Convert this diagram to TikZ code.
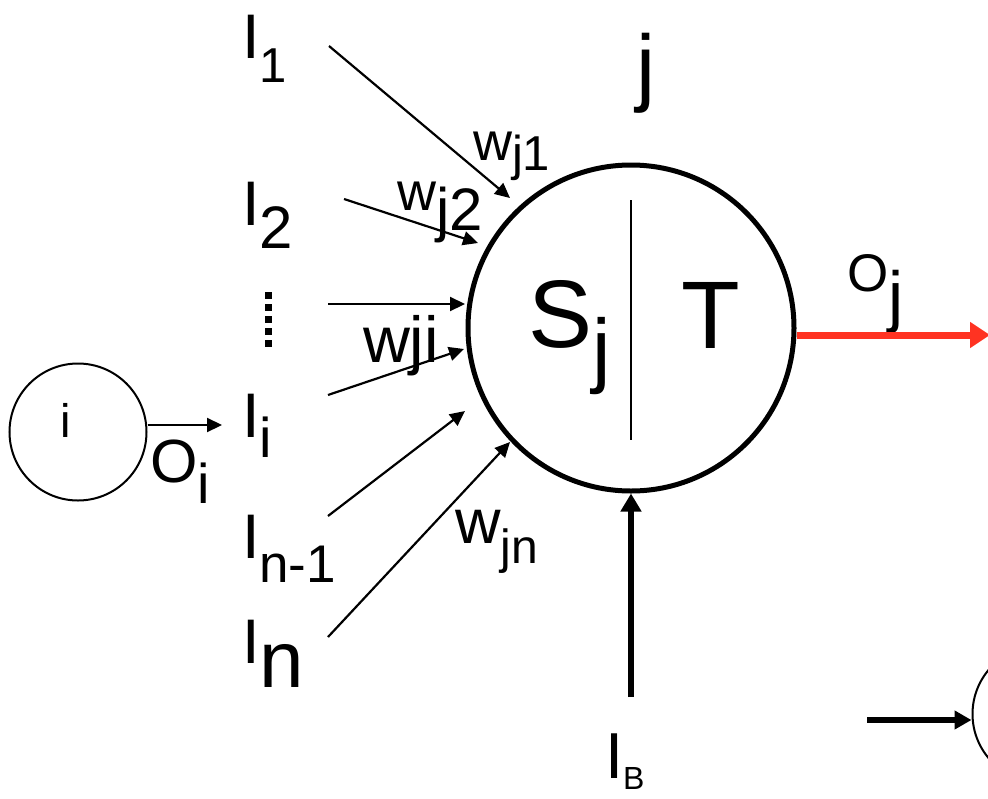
\documentclass[tikz,border=0pt]{standalone}
\usepackage{fontspec}
\setmainfont{Liberation Sans}
\usetikzlibrary{arrows.meta,calc}
\definecolor{outred}{HTML}{FF3322}
\tikzset{
  neuron/.style    = {draw,circle,line width=2pt,minimum size=137pt,inner sep=0pt},
  bigneuron/.style = {draw,circle,line width=5pt,minimum size=326pt,inner sep=0pt},
  lbl/.style       = {anchor=base west,inner sep=0pt,outer sep=0pt},
  wt/.style        = {-{Triangle[length=15pt,width=14pt]},line width=2.2pt},
  fat/.style       = {-{Triangle[length=18pt,width=20pt]},line width=6pt},
}
% main text, its size, subscript, its size, drop of the subscript
\newcommand{\sublbl}[5]{%
  \fontsize{#2}{#2}\selectfont #1\raisebox{-#5pt}{\fontsize{#4}{#4}\selectfont #3}}

\begin{document}
\begin{tikzpicture}[x=1pt,y=-1pt]
  \clip (0,0) rectangle (988,798);
  \node[bigneuron] (sj) at (631,328) {};
  \node[neuron] (ni) at (78,432) {};
  \node[neuron] (nk) at (1041,714) {};
  \draw[line width=1.5pt] ([yshift=128pt]sj.center) -- ([yshift=-112pt]sj.center);

  \node[lbl] (sl) at (528,347) {\sublbl{S}{96}{j}{83}{30}};
  \node[lbl] (tl) at (681,348) {\fontsize{96}{96}\selectfont T};
  \node[lbl] (jl) at (636,95) {\fontsize{86}{86}\selectfont j};
  \node[anchor=base,inner sep=0pt] (il) at (65.5,437) {\fontsize{47}{47}\selectfont i};

  \node[lbl] (l1) at (242,58)  {\sublbl{I}{63}{1}{49}{24}};
  \node[lbl] (l2) at (242,225) {\sublbl{I}{63}{2}{60}{23}};
  \node[lbl] (li) at (242,437) {\sublbl{I}{63}{i}{56}{20}};
  \node[lbl] (lm) at (242,558) {\sublbl{I}{63}{n-1}{53}{24}};
  \node[lbl] (ln) at (242,663) {\sublbl{I}{63}{n}{80}{24}};
  \draw[line width=7pt,dash pattern=on 7pt off 5pt] (268,292) -- (268,347);

  \node[lbl] (w1) at (473,160) {\sublbl{w}{54}{j1}{49}{10}};
  \node[lbl] (w2) at (397,210) {\sublbl{w}{54}{j2}{60}{20}};
  \node[lbl] (wi) at (363,362) {\fontsize{65}{65}\selectfont wji};
  \node[lbl] (wn) at (455,543) {\sublbl{w}{63}{jn}{48}{20}};
  \node[lbl] (oil) at (150,482) {\sublbl{O}{61}{i}{56}{21}};
  \node[lbl] (ojl) at (847,291) {\sublbl{O}{53}{j}{68}{28}};
  \node[lbl] (ibl) at (605,778) {\sublbl{I}{65}{B}{32}{11}};

  \coordinate (a1) at (329,46);  \coordinate (b1) at (510,198);
  \coordinate (a2) at (344,199); \coordinate (b2) at (478,243);
  \coordinate (a3) at (328,304); \coordinate (b3) at (465,304);
  \coordinate (a4) at (328,395); \coordinate (b4) at (464,349);
  \coordinate (a5) at (328,516); \coordinate (b5) at (465,411);
  \coordinate (a6) at (328,637); \coordinate (b6) at (510,442);
  \foreach \k in {1,...,6}
    \draw[wt] (a\k) -- (b\k);

  \coordinate (oi) at (222,425);
  \draw[wt] (ni.east |- oi) -- (oi);
  \coordinate (ib) at (631,697);
  \draw[fat] (ib) -- (sj.south);
  \coordinate (oj) at (990,335);
  \draw[fat,outred,line width=7pt,-{Triangle[length=20pt,width=25pt]}] (sj.east |- oj) -- (oj);
  \coordinate (nx) at (867,720);
  \draw[fat,-{Triangle[length=17pt,width=18pt]}] (nx) -- (nx -| nk.west);
\end{tikzpicture}
\end{document}
